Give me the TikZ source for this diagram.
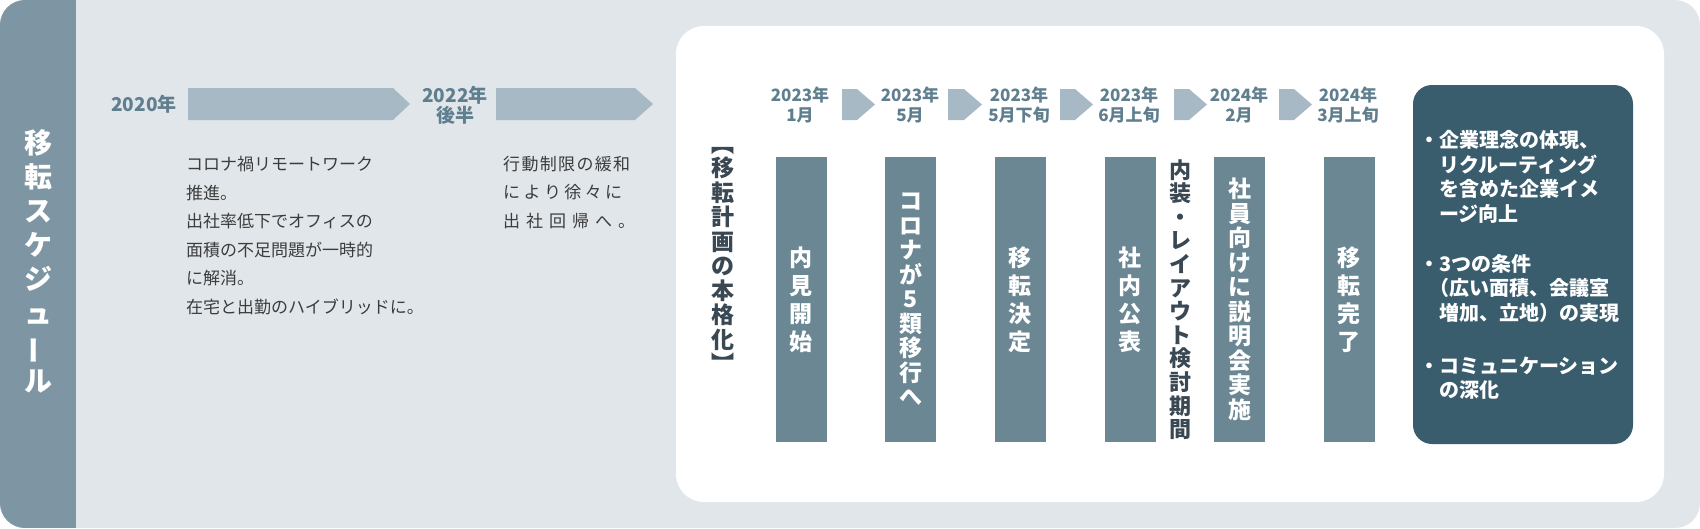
\documentclass[tikz,border=0pt]{standalone}
\usepackage{fontspec}
\setmainfont{Noto Sans CJK JP}
\usepackage{graphicx}
\usepackage{tikz}
\usetikzlibrary{positioning}

\definecolor{bggrey}{HTML}{E1E6EA}
\definecolor{bandgrey}{HTML}{7E96A3}
\definecolor{arrowgrey}{HTML}{A6B9C4}
\definecolor{labelblue}{HTML}{5F7E8E}
\definecolor{barblue}{HTML}{6A8793}
\definecolor{goalblue}{HTML}{3A5D6E}
\definecolor{inkdark}{HTML}{3A4853}
\definecolor{bodygrey}{HTML}{3C3C3C}

\begin{document}
\begin{tikzpicture}[x=1pt,y=1pt,yscale=-1,xscale=1,
  vstack/.style={inner sep=0pt,align=center},
  bandtext/.style={vstack,text=white,font=\bfseries\fontsize{28}{34}\selectfont},
  plantext/.style={vstack,text=inkdark,font=\bfseries\fontsize{23}{24.5}\selectfont},
  yearlabel/.style={inner sep=0pt,align=center,text=labelblue,font=\bfseries\fontsize{19}{20}\selectfont},
  steplabel/.style={yearlabel,font=\bfseries\fontsize{17}{20}\selectfont},
  bodytext/.style={inner sep=0pt,anchor=west,align=left,text=bodygrey,font=\fontsize{17}{28.6}\selectfont},
  stepbar/.style={vstack,fill=barblue,text=white,minimum width=51pt,minimum height=285pt,font=\bfseries\fontsize{23}{28}\selectfont},
  longbar/.style={stepbar,font=\bfseries\fontsize{23}{24.5}\selectfont},
  goalbox/.style={fill=goalblue,rounded corners=19pt,minimum width=220pt,minimum height=359pt,inner sep=0pt},
  goaltext/.style={inner sep=0pt,anchor=west,align=left,text=white,font=\bfseries\fontsize{20}{24.5}\selectfont}]
\useasboundingbox (0,0) rectangle (1700,528);

%Shape: Rounded Rect [id:background]
\fill[bggrey,rounded corners=25pt] (0,0) rectangle (1700,528);
%Shape: Rectangle [id:band]
\begin{scope}
\clip[rounded corners=25pt] (0,0) rectangle (1700,528);
\fill[bandgrey] (0,0) rectangle (76,528);
\end{scope}
%Shape: Rounded Rect [id:panel]
\fill[white,rounded corners=28pt] (676,26) rectangle (1664,502);

%Shape: Arrow [id:arrow2020]
\fill[arrowgrey] (188,88) -- (393,88) -- (410,104) -- (393,120) -- (188,120) -- cycle;
%Shape: Arrow [id:arrow2022]
\fill[arrowgrey] (496,88) -- (635,88) -- (653,104) -- (635,120) -- (496,120) -- cycle;

%Shape: Chevron [id:chev1]
\fill[arrowgrey] (842,89) -- (857,89) -- (875,104.5) -- (857,120) -- (842,120) -- cycle;
%Shape: Chevron [id:chev2]
\fill[arrowgrey] (948,89) -- (964,89) -- (982,104.5) -- (964,120) -- (948,120) -- cycle;
%Shape: Chevron [id:chev3]
\fill[arrowgrey] (1060,89) -- (1075,89) -- (1093,104.5) -- (1075,120) -- (1060,120) -- cycle;
%Shape: Chevron [id:chev4]
\fill[arrowgrey] (1174,89) -- (1189,89) -- (1207,104.5) -- (1189,120) -- (1174,120) -- cycle;
%Shape: Chevron [id:chev5]
\fill[arrowgrey] (1279,89) -- (1294,89) -- (1312,104.5) -- (1294,120) -- (1279,120) -- cycle;

% Text Node
\node[bandtext] (band) at (38,261) {移\\転\\ス\\ケ\\ジ\\ュ\\\rotatebox[origin=c]{90}{ー}\\ル};

% Text Node
\node[yearlabel] (y2020) at (144,104.5) {2020年};
% Text Node
\node[yearlabel] (y2022) at (455,105) {2022年\\後半};

% Text Node
\node[bodytext] (remote) at (186,235.5) {コロナ禍リモートワーク\\推進。\\出社率低下でオフィスの\\面積の不足問題が一時的\\に解消。\\在宅と出勤のハイブリッドに。};
% Text Node
\node[bodytext] (comeback) at (503,192.5) {\hbox to 127pt{行\hfil 動\hfil 制\hfil 限\hfil の\hfil 緩\hfil 和}\\\hbox to 119pt{に\hfil よ\hfil り\hfil 徐\hfil 々\hfil に}\\\hbox to 132pt{出\hfil 社\hfil 回\hfil 帰\hfil へ\hfil 。}};

% Text Node
\node[plantext] (plan) at (723,260) {︻\\移\\転\\計\\画\\の\\本\\格\\化\\︼};

% Text Node
\node[steplabel] (step1) at (800,105.5) {2023年\\1月};
% Text Node
\node[steplabel] (step2) at (910,105.5) {2023年\\5月};
% Text Node
\node[steplabel] (step3) at (1019,105.5) {2023年\\5月下旬};
% Text Node
\node[steplabel] (step4) at (1129,105.5) {2023年\\6月上旬};
% Text Node
\node[steplabel] (step5) at (1239,105.5) {2024年\\2月};
% Text Node
\node[steplabel] (step6) at (1348,105.5) {2024年\\3月上旬};

%Shape: Bar [id:bar1]
\node[stepbar] (bar1) at (801,299.5) {内\\見\\開\\始};
%Shape: Bar [id:bar2]
\node[longbar] (bar2) at (910.5,299.5) {コ\\ロ\\ナ\\が\\5\\類\\移\\行\\へ};
%Shape: Bar [id:bar3]
\node[stepbar] (bar3) at (1020,299.5) {移\\転\\決\\定};
%Shape: Bar [id:bar4]
\node[stepbar] (bar4) at (1130,299.5) {社\\内\\公\\表};
% Text Node
\node[plantext,font=\bfseries\fontsize{22}{23.6}\selectfont] (layout) at (1180,299.5) {内\\装\\・\\レ\\イ\\ア\\ウ\\ト\\検\\討\\期\\間};
%Shape: Bar [id:bar5]
\node[longbar] (bar5) at (1239.5,299.5) {社\\員\\向\\け\\に\\説\\明\\会\\実\\施};
%Shape: Bar [id:bar6]
\node[stepbar] (bar6) at (1349,299.5) {移\\転\\完\\了};

%Shape: Rounded Rect [id:goal]
\node[goalbox] (goal) at (1523,264.5) {};
% Text Node
\node[goaltext] (goal1) at (1439,177) {\llap{・}企業理念の体現、\\リクルーティング\\を含めた企業イメ\\ージ向上};
% Text Node
\node[goaltext] (goal2) at (1439,288) {\llap{・}3つの条件\\\kern-0.5em（広い面積、会議室\\増加、立地）の実現};
% Text Node
\node[goaltext] (goal3) at (1439,378) {\llap{・}コミュニケーション\\の深化};

\end{tikzpicture}
\end{document}
